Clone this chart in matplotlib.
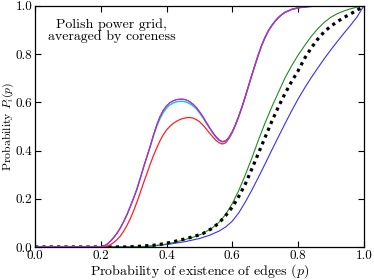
import matplotlib
matplotlib.use("Agg")
import matplotlib.pyplot as plt

plt.rcParams['font.family'] = 'serif'
plt.rcParams['font.serif'] = ['cmr10', 'DejaVu Serif']
plt.rcParams['mathtext.fontset'] = 'cm'
plt.rcParams['axes.formatter.use_mathtext'] = True
plt.rcParams['font.size'] = 10

# Averaged-by-coreness curves (magenta/violet/cyan nearly overlap, red lower)
p_mag = [0.0, 0.19, 0.20, 0.21, 0.22, 0.23, 0.24, 0.25, 0.26, 0.27, 0.28, 0.29, 0.30, 0.31, 0.32,
         0.33, 0.34, 0.35, 0.36, 0.37, 0.38, 0.39, 0.40, 0.41, 0.42, 0.43, 0.44, 0.45, 0.46,
         0.47, 0.48, 0.49, 0.50, 0.51, 0.52, 0.53, 0.54, 0.55, 0.56, 0.57, 0.58, 0.59, 0.60,
         0.61, 0.62, 0.63, 0.64, 0.65, 0.66, 0.67, 0.68, 0.69, 0.70, 0.71, 0.72, 0.73, 0.74,
         0.75, 0.76, 0.78, 0.80, 0.83, 0.87, 1.0]
P_mag = [0.0, 0.0, 0.001, 0.004, 0.012, 0.025, 0.04, 0.058, 0.08, 0.106, 0.135, 0.168, 0.203, 0.24,
         0.284, 0.33, 0.373, 0.416, 0.463, 0.505, 0.54, 0.566, 0.585, 0.598, 0.606, 0.611, 0.613,
         0.613, 0.61, 0.603, 0.593, 0.58, 0.562, 0.542, 0.519, 0.497, 0.476, 0.458, 0.444, 0.437,
         0.44, 0.455, 0.478, 0.508, 0.543, 0.582, 0.625, 0.67, 0.715, 0.758, 0.80, 0.838, 0.87,
         0.897, 0.918, 0.936, 0.951, 0.963, 0.973, 0.985, 0.992, 0.997, 1.0, 1.0]
P_cyan = [0.0, 0.0, 0.001, 0.004, 0.012, 0.025, 0.04, 0.058, 0.08, 0.106, 0.135, 0.168, 0.203, 0.24,
          0.284, 0.33, 0.372, 0.414, 0.459, 0.499, 0.532, 0.557, 0.576, 0.589, 0.597, 0.602, 0.604,
          0.604, 0.601, 0.595, 0.586, 0.574, 0.557, 0.538, 0.516, 0.495, 0.474, 0.456, 0.442, 0.435,
          0.438, 0.453, 0.477, 0.507, 0.543, 0.582, 0.625, 0.67, 0.715, 0.758, 0.80, 0.838, 0.87,
          0.897, 0.918, 0.936, 0.951, 0.963, 0.973, 0.985, 0.992, 0.997, 1.0, 1.0]

p_red = [0.0, 0.20, 0.21, 0.22, 0.23, 0.24, 0.25, 0.26, 0.27, 0.28, 0.29, 0.30, 0.31, 0.32, 0.33,
         0.34, 0.35, 0.36, 0.37, 0.38, 0.39, 0.40, 0.41, 0.42, 0.43, 0.44, 0.45, 0.46, 0.47,
         0.48, 0.49, 0.50, 0.51, 0.52, 0.53, 0.54, 0.55, 0.56, 0.57, 0.58, 0.59, 0.60, 0.61,
         0.62, 0.63, 0.64, 0.65, 0.66, 0.67, 0.68, 0.69, 0.70, 0.71, 0.72, 0.73, 0.74, 0.75,
         0.76, 0.78, 0.80, 0.83, 0.87, 1.0]
P_red = [0.0, 0.0, 0.001, 0.004, 0.01, 0.019, 0.031, 0.046, 0.066, 0.09, 0.118, 0.15, 0.186, 0.225,
         0.265, 0.303, 0.342, 0.378, 0.41, 0.44, 0.465, 0.485, 0.50, 0.512, 0.521, 0.528, 0.533,
         0.536, 0.537, 0.535, 0.529, 0.52, 0.507, 0.491, 0.474, 0.458, 0.443, 0.432, 0.427, 0.432,
         0.449, 0.474, 0.506, 0.543, 0.582, 0.625, 0.67, 0.715, 0.758, 0.80, 0.838, 0.87, 0.897,
         0.918, 0.936, 0.951, 0.963, 0.973, 0.985, 0.992, 0.997, 1.0, 1.0]

# Smooth reference curves
p_green = [0.0, 0.30, 0.33, 0.36, 0.39, 0.42, 0.45, 0.48, 0.51, 0.54, 0.56, 0.58, 0.60, 0.62, 0.64,
           0.66, 0.68, 0.70, 0.72, 0.74, 0.76, 0.78, 0.80, 0.82, 0.84, 0.86, 0.88, 0.90, 0.92,
           0.94, 0.96, 0.98, 1.0]
P_green = [0.0, 0.0, 0.002, 0.005, 0.01, 0.018, 0.028, 0.04, 0.055, 0.08, 0.103, 0.135, 0.18, 0.235,
           0.30, 0.37, 0.445, 0.515, 0.58, 0.64, 0.70, 0.75, 0.795, 0.835, 0.873, 0.905, 0.932,
           0.953, 0.968, 0.979, 0.988, 0.995, 1.0]

p_black = [0.0, 0.28, 0.32, 0.36, 0.40, 0.44, 0.48, 0.51, 0.54, 0.56, 0.58, 0.60, 0.62, 0.64, 0.66,
           0.68, 0.70, 0.72, 0.74, 0.76, 0.78, 0.80, 0.82, 0.84, 0.86, 0.88, 0.90, 0.92, 0.94,
           0.96, 0.98, 1.0]
P_black = [0.0, 0.0, 0.003, 0.007, 0.015, 0.028, 0.042, 0.055, 0.078, 0.10, 0.13, 0.165, 0.21, 0.262,
           0.325, 0.39, 0.455, 0.52, 0.58, 0.635, 0.685, 0.73, 0.782, 0.825, 0.862, 0.893, 0.916,
           0.935, 0.952, 0.967, 0.982, 1.0]

p_blue = [0.0, 0.30, 0.34, 0.38, 0.42, 0.46, 0.50, 0.53, 0.56, 0.58, 0.60, 0.62, 0.64, 0.66, 0.68,
          0.70, 0.72, 0.74, 0.76, 0.78, 0.80, 0.82, 0.84, 0.86, 0.88, 0.90, 0.92, 0.94, 0.96,
          0.98, 1.0]
P_blue = [0.0, 0.0, 0.002, 0.007, 0.014, 0.023, 0.035, 0.048, 0.066, 0.083, 0.107, 0.142, 0.187, 0.237,
          0.29, 0.345, 0.401, 0.456, 0.51, 0.563, 0.613, 0.659, 0.702, 0.742, 0.781, 0.818, 0.853,
          0.887, 0.92, 0.955, 1.0]

xticks = [0.0, 0.2, 0.4, 0.6, 0.8, 1.0]
yticks = [0.0, 0.2, 0.4, 0.6, 0.8, 1.0]

fig = plt.figure(figsize=(3.74, 2.80), dpi=100)
ax = fig.add_axes([0.0936, 0.118, 0.879, 0.861])

ax.plot(p_blue, P_blue, color='#3030ff', lw=0.8)
ax.plot(p_green, P_green, color='#228b22', lw=0.8)
ax.plot(p_black, P_black, color='black', lw=2.3, dashes=(1.0, 1.3))
ax.plot(p_red, P_red, color='#ff2020', lw=0.9)
ax.plot(p_mag, P_cyan, color='#00d0d0', lw=1.0)
ax.plot(p_mag, P_mag, color='#8a40f0', lw=0.9)
ax.plot(p_mag, P_mag, color='#d020c0', lw=0.7)

ax.set_xlim(0, 1)
ax.set_ylim(0, 1)
ax.set_xticks(xticks)
ax.set_yticks(yticks)
ax.set_xticklabels([f"{v:.1f}" for v in xticks])
ax.set_yticklabels([f"{v:.1f}" for v in yticks])
ax.tick_params(direction='in', top=True, right=True, length=4, width=0.8, pad=2, labelsize=9.5)
for s in ax.spines.values():
    s.set_linewidth(0.9)

ax.set_xlabel("Probability of existence of edges $(p)$", va='baseline')
ax.xaxis.set_label_coords(0.5, -0.113)
ax.set_ylabel("Probability $P_i(p)$", va='center', fontsize=8.5)
ax.yaxis.set_label_coords(-0.081, 0.5)
ax.text(0.234, 0.897, "Polish power grid,\naveraged by coreness", ha='center', va='center',
        transform=ax.transAxes, linespacing=0.95)

fig.savefig("out.png", dpi=100)
